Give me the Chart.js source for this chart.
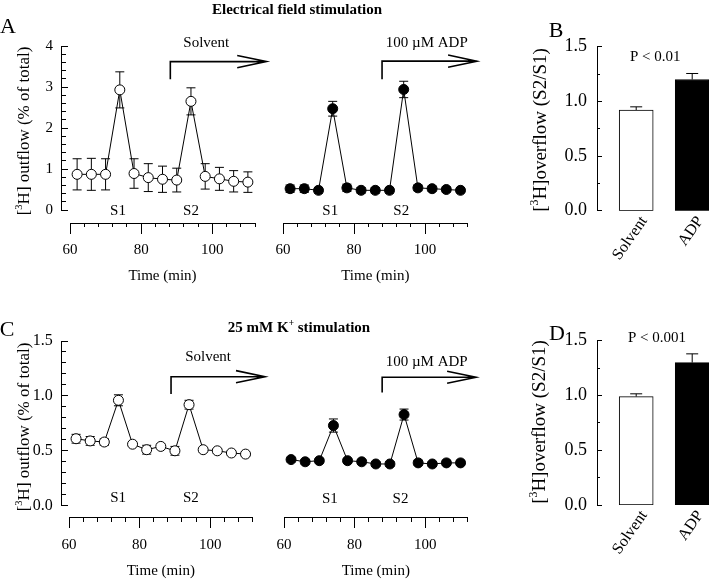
<!DOCTYPE html>
<html>
<head>
<meta charset="utf-8">
<script src="https://cdn.jsdelivr.net/npm/chart.js@4.4.1/dist/chart.umd.min.js"></script>
<style>
  html, body { margin: 0; padding: 0; background: #fff; overflow: hidden; }
  #fig { position: relative; width: 709px; height: 579px; overflow: hidden; font-family: "Liberation Serif", "Times New Roman", serif; color: #000; }
  #fig canvas { position: absolute; left: 0; top: 0; }
  .t { position: absolute; transform: translate(-50%, -50%); white-space: nowrap; line-height: 1; }
  .rot { transform: translate(-50%, -50%) rotate(-90deg); }
  .t sup { font-size: 0.62em; vertical-align: 0.6em; line-height: 0; }
</style>
</head>
<body>
<div id="fig">
  <canvas id="efsSolventChart" width="760" height="579"></canvas>
  <canvas id="efsAdpChart" width="760" height="579"></canvas>
  <canvas id="efsRatioChart" width="760" height="579"></canvas>
  <canvas id="kSolventChart" width="760" height="579"></canvas>
  <canvas id="kAdpChart" width="760" height="579"></canvas>
  <canvas id="kRatioChart" width="760" height="579"></canvas>

  <div class="t" style="left:8px;top:26px;font-size:22px">A</div>
  <div class="t" style="left:556px;top:30px;font-size:22px">B</div>
  <div class="t" style="left:7px;top:329px;font-size:22px">C</div>
  <div class="t" style="left:557px;top:333px;font-size:22px">D</div>

  <div class="t" style="left:297px;top:9px;font-size:15px;font-weight:bold">Electrical field stimulation</div>
  <div class="t" style="left:299px;top:327px;font-size:15px;font-weight:bold">25 mM K<sup>+</sup> stimulation</div>

  <div class="t rot" style="left:23px;top:131px;font-size:17px">[<sup>3</sup>H] outflow (% of total)</div>
  <div class="t rot" style="left:23px;top:427px;font-size:17px">[<sup>3</sup>H] outflow (% of total)</div>
  <div class="t rot" style="left:539px;top:130px;font-size:19px">[<sup>3</sup>H]overflow (S2/S1)</div>
  <div class="t rot" style="left:538px;top:422px;font-size:19px">[<sup>3</sup>H]overflow (S2/S1)</div>
</div>

<script>
// sample times (min)
const TIME = [62, 66, 70, 74, 78, 82, 86, 90, 94, 98, 102, 106, 110];
const TIME_TICKS = [60, 80, 100];
const TIME_MINOR = [60, 64, 68, 72, 76, 80, 84, 88, 92, 96, 100, 104, 108, 112];

// electrical field stimulation, % of total
const efsSolvent = [0.87, 0.87, 0.87, 2.93, 0.89, 0.79, 0.75, 0.73, 2.65, 0.82, 0.76, 0.70, 0.68];
const efsSolventErr = [0.38, 0.39, 0.38, 0.44, 0.36, 0.34, 0.32, 0.29, 0.33, 0.31, 0.28, 0.26, 0.25];
const efsAdp = [0.52, 0.52, 0.48, 2.47, 0.54, 0.48, 0.48, 0.48, 2.94, 0.54, 0.52, 0.50, 0.48];
const efsAdpErr = [0.09, 0.09, 0.07, 0.18, 0.09, 0.07, 0.07, 0.07, 0.20, 0.07, 0.06, 0.06, 0.06];
const EFS_Y_TICKS = [0, 1, 2, 3, 4];

// 25 mM K+ stimulation, % of total
const kSolvent = [0.61, 0.59, 0.58, 0.96, 0.56, 0.51, 0.54, 0.50, 0.92, 0.51, 0.50, 0.48, 0.47];
const kSolventErr = [0.04, 0.04, 0.03, 0.05, 0.02, 0.04, 0.02, 0.04, 0.04, 0.02, 0.02, 0.02, 0.02];
const kAdp = [0.42, 0.40, 0.41, 0.73, 0.41, 0.40, 0.38, 0.38, 0.83, 0.39, 0.38, 0.39, 0.39];
const kAdpErr = [0.02, 0.02, 0.02, 0.06, 0.02, 0.02, 0.02, 0.02, 0.05, 0.02, 0.02, 0.02, 0.02];
const K_Y_TICKS = [0, 0.5, 1.0, 1.5];

// S2/S1 ratios
const GROUPS = ['Solvent', 'ADP'];
const efsRatio = [0.92, 1.20];
const efsRatioErr = [0.03, 0.055];
const kRatio = [0.99, 1.30];
const kRatioErr = [0.025, 0.08];
const RATIO_TICKS = [0, 0.5, 1.0, 1.5];
const RATIO_MINOR = [0.25, 0.75, 1.25];

Chart.defaults.font.family = '"Liberation Serif", "Times New Roman", serif';
Chart.defaults.font.size = 15;
Chart.defaults.color = '#000';

const CW = 760, CH = 579;
const INK = '#000';

const steps = (from, to, step) => {
  const out = [];
  for (let i = 0; from + i * step <= to + 1e-9; i++) out.push(Math.round((from + i * step) * 100) / 100);
  return out;
};

const pad = a => ({ left: a.left, top: a.top, right: CW - a.right, bottom: CH - a.bottom });
const fixedTicks = values => scale => { scale.ticks = values.map(v => ({ value: v })); };

function errorBarsFor(o) {
  return {
    id: 'errorBars',
    beforeDatasetsDraw(chart) {
      const ctx = chart.ctx;
      ctx.save();
      ctx.strokeStyle = INK;
      ctx.lineWidth = 1;
      chart.data.datasets.forEach((ds, i) => {
        if (!ds.errors) return;
        const meta = chart.getDatasetMeta(i);
        const ys = chart.scales[meta.yAxisID];
        meta.data.forEach((el, j) => {
          const v = ds.data[j].y, e = ds.errors[j];
          const top = ys.getPixelForValue(v + e);
          const bot = ys.getPixelForValue(o.upOnly ? v : v - e);
          ctx.beginPath();
          ctx.moveTo(el.x, top); ctx.lineTo(el.x, bot);
          ctx.moveTo(el.x - o.cap, top); ctx.lineTo(el.x + o.cap, top);
          if (!o.upOnly) { ctx.moveTo(el.x - o.cap, bot); ctx.lineTo(el.x + o.cap, bot); }
          ctx.stroke();
        });
      });
      ctx.restore();
    }
  };
}

function notesFor(n) {
  return {
    id: 'notes',
    afterDraw(chart) {
      const ctx = chart.ctx, xs = chart.scales.x, ys = chart.scales.y;
      const px = v => xs.getPixelForValue(v), py = v => ys.getPixelForValue(v);
      ctx.save();
      ctx.fillStyle = INK;
      ctx.textAlign = 'center';
      ctx.textBaseline = 'middle';
      ctx.font = '15px "Liberation Serif", "Times New Roman", serif';
      (n.texts || []).forEach(t => ctx.fillText(t.text, px(t.x), py(t.y)));
      const a = n.arrow;
      if (a) {
        ctx.strokeStyle = INK;
        ctx.lineWidth = 1.6;
        ctx.beginPath();
        ctx.moveTo(px(a.x), py(a.from));
        ctx.lineTo(px(a.x), py(a.y));
        ctx.lineTo(px(a.to), py(a.y));
        ctx.moveTo(px(a.back), py(a.y + a.half));
        ctx.lineTo(px(a.to), py(a.y));
        ctx.lineTo(px(a.back), py(a.y - a.half));
        ctx.stroke();
      }
      ctx.restore();
    }
  };
}

// y axis: labels on their own axis (set a little left), major and minor ticks pointing inward
function yAxes(y) {
  const common = { type: 'linear', axis: 'y', min: 0, max: y.max, afterFit: s => { s.width = 0; } };
  return {
    yLab: Object.assign({}, common, {
      position: { x: y.labelAt },
      afterBuildTicks: fixedTicks(y.major),
      border: { display: false },
      grid: { display: false, drawTicks: false },
      ticks: { autoSkip: false, padding: 0, font: { size: y.size }, callback: y.label }
    }),
    yMajor: Object.assign({}, common, {
      position: { x: y.at },
      afterBuildTicks: fixedTicks(y.major),
      border: { display: true, color: INK, width: 1 },
      grid: { drawOnChartArea: false, color: INK, tickLength: -y.majorLen },
      ticks: { display: false }
    }),
    yMinor: Object.assign({}, common, {
      position: { x: y.at },
      afterBuildTicks: fixedTicks(y.minor),
      border: { display: false },
      grid: { drawOnChartArea: false, color: INK, tickLength: -y.minorLen },
      ticks: { display: false }
    })
  };
}

const baseOptions = p => ({
  responsive: false,
  animation: false,
  devicePixelRatio: 1,
  events: [],
  layout: { padding: pad(p.area) },
  plugins: { legend: { display: false }, tooltip: { enabled: false } }
});

function linePanel(id, p) {
  const scales = {
    x: { type: 'linear', min: 60, max: 112, offset: false, display: false },
    y: { type: 'linear', min: 0, max: p.yMax, display: false },
    xMajor: {
      type: 'linear', axis: 'x', position: { y: p.xAxisAt }, min: 60, max: 112, offset: false,
      afterBuildTicks: fixedTicks(TIME_TICKS),
      afterFit: s => { s.height = 66; },
      border: { display: true, color: INK, width: 1 },
      grid: { drawOnChartArea: false, color: INK, tickLength: 10 },
      ticks: { autoSkip: false, maxRotation: 0, padding: 8 },
      title: { display: true, text: 'Time (min)', padding: { top: 4, bottom: 4 } }
    },
    xMinor: {
      type: 'linear', axis: 'x', position: { y: p.xAxisAt }, min: 60, max: 112, offset: false,
      afterBuildTicks: fixedTicks(TIME_MINOR),
      afterFit: s => { s.height = 0; },
      border: { display: false },
      grid: { drawOnChartArea: false, color: INK, tickLength: 4 },
      ticks: { display: false }
    }
  };
  if (p.yAxis) Object.assign(scales, yAxes(p.yAxis));
  return new Chart(document.getElementById(id), {
    type: 'line',
    data: {
      datasets: [{
        data: TIME.map((t, i) => ({ x: t, y: p.values[i] })),
        errors: p.errors,
        borderColor: INK,
        borderWidth: 1,
        pointRadius: 5,
        pointHoverRadius: 5,
        pointBorderWidth: 1,
        pointBorderColor: INK,
        pointBackgroundColor: p.fill,
        tension: 0,
        fill: false,
        clip: false
      }]
    },
    options: Object.assign(baseOptions(p), { scales }),
    plugins: [errorBarsFor({ cap: 4.5 }), notesFor(p.notes)]
  });
}

function ratioPanel(id, p) {
  return new Chart(document.getElementById(id), {
    type: 'bar',
    data: {
      datasets: [{
        data: GROUPS.map((g, i) => ({ x: i + 1, y: p.values[i] })),
        errors: p.errors,
        backgroundColor: ['#fff', INK],
        borderColor: INK,
        borderWidth: 1,
        borderSkipped: false,
        barThickness: 34
      }]
    },
    options: Object.assign(baseOptions(p), {
      scales: Object.assign({
        x: { type: 'linear', min: 0.3, max: 2.3, offset: false, display: false },
        y: { type: 'linear', min: 0, max: 1.5, display: false },
        xLab: {
          type: 'linear', axis: 'x', position: { y: 0 }, min: 0.3, max: 2.3, offset: false,
          afterBuildTicks: fixedTicks([1, 2]),
          border: { display: false },
          grid: { display: false, drawTicks: false },
          ticks: { autoSkip: false, minRotation: 55, maxRotation: 55, padding: 2, labelOffset: 8, font: { size: 16 },
                   callback: v => GROUPS[v - 1] }
        }
      }, yAxes({ at: 0.3, labelAt: 0.12, max: 1.5, major: RATIO_TICKS, minor: RATIO_MINOR, majorLen: 5, minorLen: 3,
                 size: 18, label: v => v.toFixed(1) }))
    }),
    plugins: [errorBarsFor({ cap: 6, upOnly: true }), notesFor(p.notes)]
  });
}

const efsY = { at: 57.75, labelAt: 55.2, max: 4, major: EFS_Y_TICKS, minor: steps(0, 4, 0.2), majorLen: 7, minorLen: 4,
               size: 15, label: v => String(v) };
const kY = { at: 58.0, labelAt: 55.4, max: 1.5, major: K_Y_TICKS, minor: steps(0, 1.5, 0.1), majorLen: 7, minorLen: 4,
             size: 16, label: v => v.toFixed(1) };

linePanel('efsSolventChart', {
  area: { left: 70, right: 255, top: 46, bottom: 210 }, yMax: 4, xAxisAt: -0.32, yAxis: efsY,
  values: efsSolvent, errors: efsSolventErr, fill: '#fff',
  notes: {
    texts: [{ text: 'S1', x: 73.5, y: -0.03 }, { text: 'S2', x: 94, y: -0.03 }, { text: 'Solvent', x: 98.3, y: 4.07 }],
    arrow: { x: 88.2, from: 3.19, y: 3.62, to: 115.2, back: 107, half: 0.15 }
  }
});

linePanel('efsAdpChart', {
  area: { left: 283, right: 467.6, top: 46, bottom: 210 }, yMax: 4, xAxisAt: -0.32,
  values: efsAdp, errors: efsAdpErr, fill: INK,
  notes: {
    texts: [{ text: 'S1', x: 73.3, y: -0.03 }, { text: 'S2', x: 93.3, y: -0.03 }, { text: '100 µM ADP', x: 100.5, y: 4.07 }],
    arrow: { x: 87.9, from: 3.19, y: 3.63, to: 114.6, back: 106.5, half: 0.15 }
  }
});

linePanel('kSolventChart', {
  area: { left: 69, right: 252.6, top: 341, bottom: 505.7 }, yMax: 1.5, xAxisAt: -0.11, yAxis: kY,
  values: kSolvent, errors: kSolventErr, fill: '#fff',
  notes: {
    texts: [{ text: 'S1', x: 73.9, y: 0.067 }, { text: 'S2', x: 94.5, y: 0.067 }, { text: 'Solvent', x: 99.4, y: 1.354 }],
    arrow: { x: 88.9, from: 1.017, y: 1.175, to: 115.5, back: 107.3, half: 0.055 }
  }
});

linePanel('kAdpChart', {
  area: { left: 284, right: 467.6, top: 341, bottom: 505.7 }, yMax: 1.5, xAxisAt: -0.11,
  values: kAdp, errors: kAdpErr, fill: INK,
  notes: {
    texts: [{ text: 'S1', x: 73, y: 0.06 }, { text: 'S2', x: 93, y: 0.06 }, { text: '100 µM ADP', x: 100.4, y: 1.31 }],
    arrow: { x: 87.8, from: 1.03, y: 1.17, to: 114.4, back: 106.2, half: 0.055 }
  }
});

ratioPanel('efsRatioChart', {
  area: { left: 597, right: 709, top: 46.7, bottom: 210.7 },
  values: efsRatio, errors: efsRatioErr,
  notes: { texts: [{ text: 'P < 0.01', x: 1.34, y: 1.406 }] }
});

ratioPanel('kRatioChart', {
  area: { left: 597, right: 709, top: 340.7, bottom: 505 },
  values: kRatio, errors: kRatioErr,
  notes: { texts: [{ text: 'P < 0.001', x: 1.37, y: 1.525 }] }
});
</script>
</body>
</html>
